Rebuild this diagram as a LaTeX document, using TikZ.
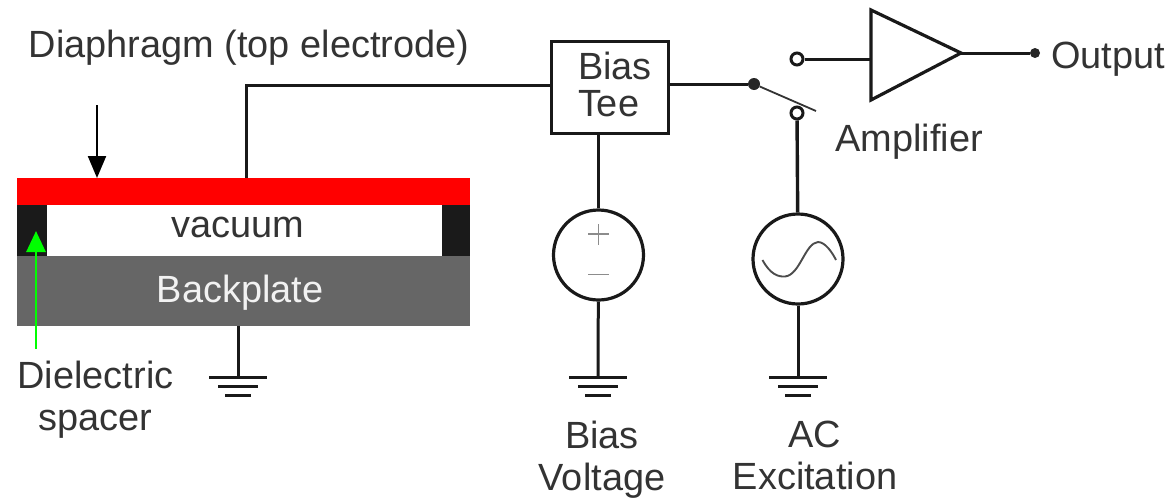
\documentclass[tikz,border=0pt]{standalone}
\usepackage{fontspec}
\setmainfont{Liberation Sans}
\usetikzlibrary{arrows.meta,calc}
\definecolor{txt}{HTML}{333333}
\definecolor{spacer}{HTML}{1A1A1A}
\definecolor{plate}{HTML}{666666}
\tikzset{
  wire/.style={draw=black!90,line width=3pt},
  lbl/.style={text=txt,font=\fontsize{37.9}{42}\selectfont,inner sep=0pt,align=center},
  source/.style={circle,draw=black!90,line width=3.2pt,minimum size=90pt,inner sep=0pt,fill=white},
  opendot/.style={circle,draw=black!90,line width=3pt,fill=white,minimum size=12pt,inner sep=0pt},
  soliddot/.style={circle,fill=black!85,minimum size=12pt,inner sep=0pt},
  gndbar/.style={draw=black!90,line width=3pt},
}
\newcommand{\gndsym}[1]{%
  \draw[gndbar] ($(#1)+(-29,0)$) -- ($(#1)+(29,0)$);
  \draw[gndbar] ($(#1)+(-20,9)$) -- ($(#1)+(20,9)$);
  \draw[gndbar] ($(#1)+(-13,18)$) -- ($(#1)+(13,18)$);
}
\begin{document}
\begin{tikzpicture}[x=1pt,y=-1pt]
\useasboundingbox (0,0) rectangle (1169,498);
% capacitor
\node[fill=red,minimum width=453pt,minimum height=27pt,inner sep=0pt] (diaphragm) at (243.5,191.5) {};
\node[fill=plate,minimum width=453pt,minimum height=70pt,inner sep=0pt] (backplate) at (243.5,291) {};
\node[fill=spacer,minimum width=30pt,minimum height=51pt,inner sep=0pt] (spacerL) at (32,230.5) {};
\node[fill=spacer,minimum width=28pt,minimum height=51pt,inner sep=0pt] (spacerR) at (456,230.5) {};
\node[lbl] (vac) at (238,227) {vacuum};
\node[lbl,text=white!95!black] (bp) at (240,293) {Backplate};
\node[lbl] (dia) at (249,48) {Diaphragm (top electrode)};
\node[lbl] (die) at (95.5,400) {Dielectric\\spacer};
% arrows
\coordinate (diaTail) at (97,105);
\coordinate (diaTip) at (97,178);
\draw[line width=2.2pt,-{Triangle[length=22pt,width=18pt]}] (diaTail) -- (diaTip);
\coordinate (greenTail) at (36,349);
\coordinate (greenTip) at (36,231);
\draw[draw=green,fill=green,line width=2.8pt,-{Triangle[length=21pt,width=19pt]}] (greenTail) -- (greenTip);
% bias tee
\node[draw=black!90,line width=3pt,minimum width=117pt,minimum height=92pt,inner xsep=27pt,inner ysep=0pt,text width=63pt,align=left,text=txt,font=\fontsize{37.9}{37}\selectfont] (tee) at (609.5,87) {Bias\\[0pt]Tee\rule[-5pt]{0pt}{5pt}};
\coordinate (diaTop) at (246,178);
\coordinate (corner) at (246,85);
\draw[wire] (diaTop) -- (corner) -- (tee.west |- corner);
% sources
\node[source] (vsrc) at (598.5,255) {};
\node[source] (acsrc) at (798,259) {};
\draw[draw=black!45,line width=1.7pt] (598.5,224) -- (598.5,245) (588,234) -- (609,234);
\draw[draw=black!45,line width=1.7pt] (588,274.5) -- (609,274.5);
\draw[draw=black!70,line width=1.9pt] (762.5,260) .. controls (770,274) and (778,277) .. (785,276.5)
   .. controls (800,275) and (805,243) .. (818,242) .. controls (825,242) and (832,252) .. (836,260);
% switch
\node[soliddot] (pivot) at (754,84) {};
\node[opendot] (swA) at (797,59) {};
\node[opendot] (swB) at (797,113) {};
\coordinate (armEnd) at (816,111);
\draw[wire] (tee.east |- pivot) -- (pivot);
\draw[draw=black!80,line width=1.8pt] (pivot) -- (armEnd);
\draw[wire,line width=3.4pt] (swB) -- (acsrc);
\draw[wire,line width=2.4pt] (tee.south -| vsrc) -- (vsrc);
% amplifier
\coordinate (ampA) at (871,10);
\coordinate (ampB) at (871,100);
\coordinate (ampC) at (961,53);
\draw[draw=black!90,line width=3.2pt,line join=miter] (ampA) -- (ampC) -- (ampB) -- cycle;
\draw[wire] (swA) -- (swA -| ampA);
\node[soliddot,minimum size=10pt] (outdot) at (1035,53) {};
\draw[wire] (ampC) -- (outdot);
\node[lbl,anchor=west] (out) at (1051,59) {Output};
\node[lbl] (amp) at (909,142) {Amplifier};
% grounds
\coordinate (g1) at (238,377);
\coordinate (g2) at (598,377);
\coordinate (g3) at (798,377);
\draw[wire] (backplate.south -| g1) -- (g1);
\draw[wire] (vsrc) -- (g2);
\draw[wire] (acsrc) -- (g3);
\gndsym{g1}\gndsym{g2}\gndsym{g3}
\node[lbl] (bv) at (602,460) {Bias\\Voltage};
\node[lbl] (ac) at (815,455) {AC\\Excitation};
\end{tikzpicture}
\end{document}
